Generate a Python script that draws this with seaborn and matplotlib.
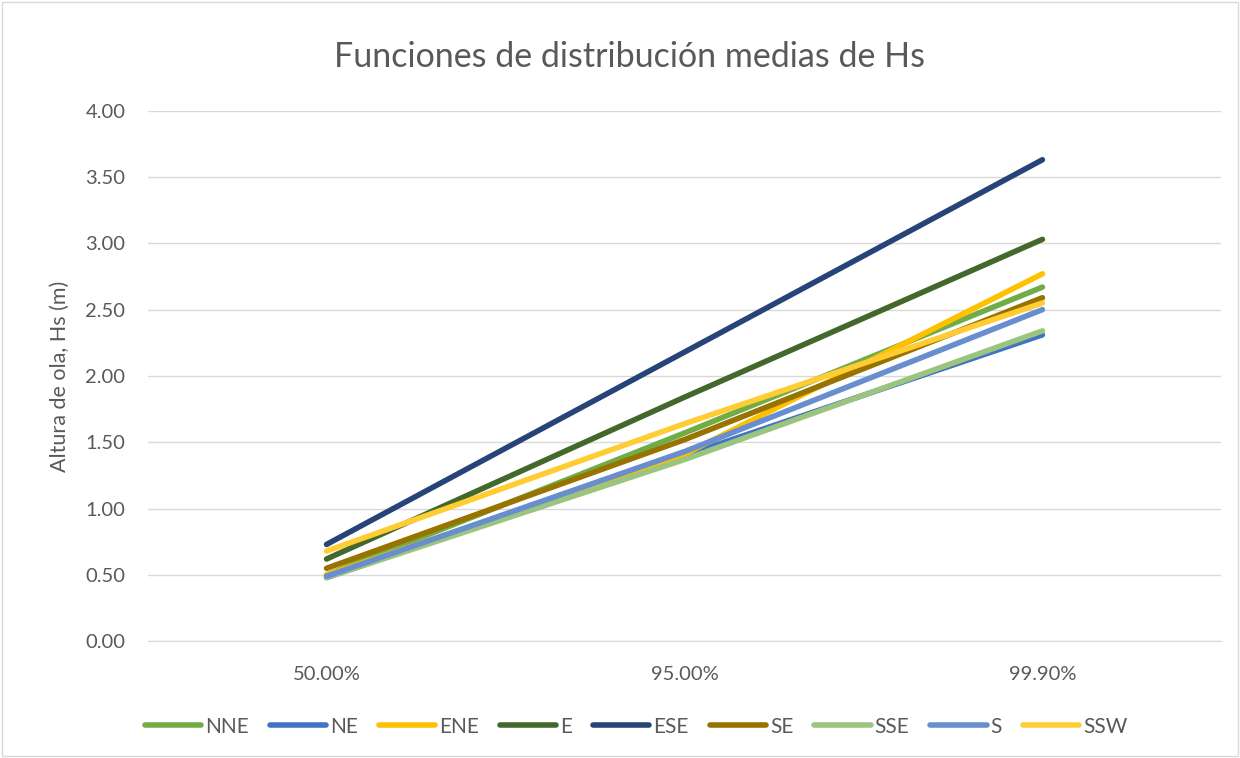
import pandas as pd
import matplotlib.pyplot as plt
import seaborn as sns

# Data
probabilities = ['50.00%', '95.00%', '99.90%']
directions = ['NNE', 'NE', 'ENE', 'E', 'ESE', 'SE', 'SSE', 'S', 'SSW']
hs_nne = [0.50, 1.57, 2.67]
hs_ne = [0.48, 1.40, 2.31]
hs_ene = [0.50, 1.41, 2.77]
hs_e = [0.62, 1.84, 3.03]
hs_ese = [0.73, 2.18, 3.63]
hs_se = [0.55, 1.52, 2.59]
hs_sse = [0.48, 1.37, 2.34]
hs_s = [0.49, 1.43, 2.50]
hs_ssw = [0.68, 1.64, 2.55]
colors = ['#70AD47', '#4472C4', '#FFC000', '#43682B', '#264478',
          '#997300', '#9BC57F', '#698ED0', '#FFCD33']

series = [hs_nne, hs_ne, hs_ene, hs_e, hs_ese, hs_se, hs_sse, hs_s, hs_ssw]
rows = []
for d, vals in zip(directions, series):
    for p, v in zip(probabilities, vals):
        rows.append({'prob': p, 'dir': d, 'hs': v})
df = pd.DataFrame(rows)

sns.set_style('white')
plt.rcParams['font.family'] = ['Lato', 'DejaVu Sans']

fig = plt.figure(figsize=(12.4, 7.58), dpi=100)
ax = fig.add_axes([0.119, 0.154, 0.866, 0.700])

sns.lineplot(data=df, x='prob', y='hs', hue='dir', hue_order=directions,
             palette=colors, linewidth=4, ax=ax, sort=False,
             solid_capstyle='round')

ax.set_xlim(-0.5, 2.5)
ax.set_ylim(0, 4)
ax.set_yticks([0, 0.5, 1.0, 1.5, 2.0, 2.5, 3.0, 3.5, 4.0])
ax.set_yticklabels([f'{v:.2f}' for v in ax.get_yticks()])
ax.grid(True, axis='y', color='#D9D9D9', linewidth=1)
ax.grid(False, axis='x')
for s in ['top', 'left', 'right']:
    ax.spines[s].set_visible(False)
ax.spines['bottom'].set_color('#D9D9D9')
ax.tick_params(axis='both', colors='#595959', labelsize=14.5, length=0)
ax.tick_params(axis='y', pad=16)
ax.tick_params(axis='x', pad=18)
ax.set_xlabel('')
ax.set_ylabel('Altura de ola, Hs (m)', fontsize=15.5, color='#595959', labelpad=11)
fig.text(0.508, 0.925, 'Funciones de distribución medias de Hs', ha='center',
         va='center', fontsize=24.5, color='#595959')

handles, labels = ax.get_legend_handles_labels()
ax.legend(handles, labels, loc='center', bbox_to_anchor=(0.455, -0.161), ncol=9,
          frameon=False, fontsize=15, labelcolor='#595959', handlelength=2.7,
          handletextpad=0.2, columnspacing=1.0)

fig.patches.append(plt.Rectangle((0.002, 0.002), 0.996, 0.996, transform=fig.transFigure,
                                 fill=False, edgecolor='#D9D9D9', linewidth=1))

fig.savefig('out.png', dpi=100)
